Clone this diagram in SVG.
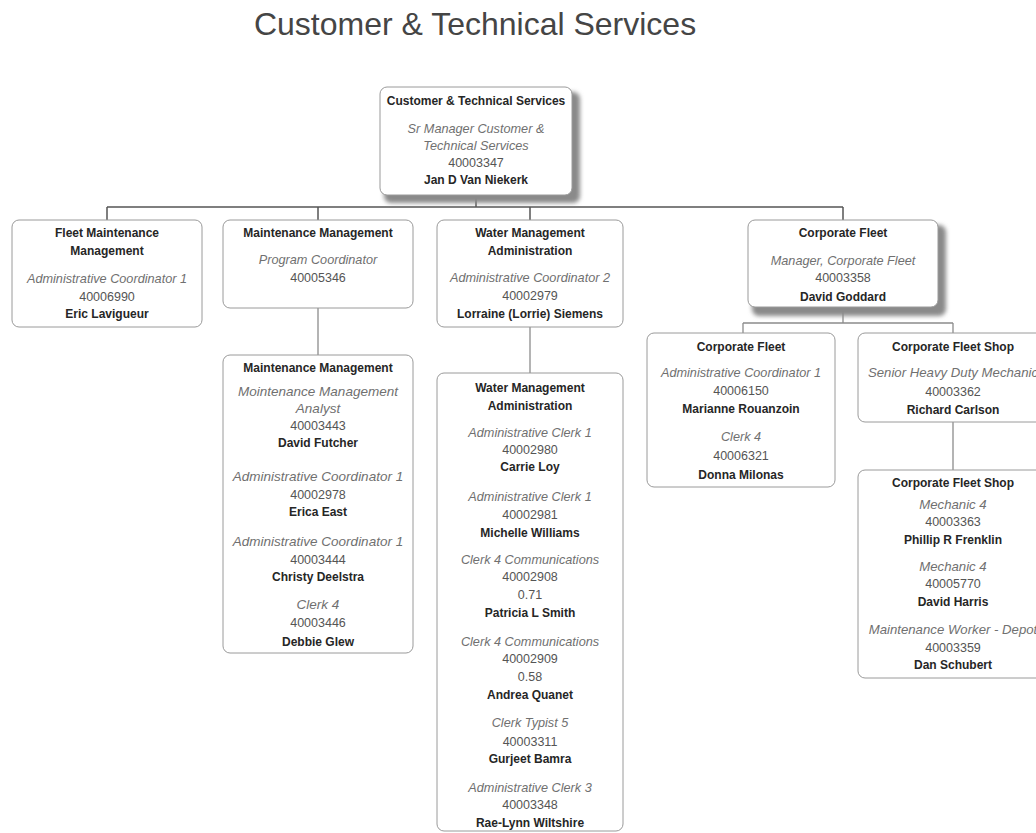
<svg xmlns="http://www.w3.org/2000/svg" width="1036" height="833" viewBox="0 0 1036 833">
  <defs>
    <filter id="shadow" x="-10%" y="-10%" width="130%" height="140%">
      <feGaussianBlur stdDeviation="2.2"/>
    </filter>
  </defs>
  <style>
    text { font-family: "Liberation Sans", Arial, sans-serif; text-anchor: middle; }
    .title { font-size: 32px; fill: #454545; }
    .box { fill: #ffffff; stroke: #9a9a9a; stroke-width: 1; }
    .shd { fill: #8a8a8a; filter: url(#shadow); }
    .h { font-size: 12px; font-weight: bold; fill: #262626; }
    .t { font-size: 12.7px; font-style: italic; fill: #707070; }
    .t2 { font-size: 13.5px; font-style: italic; fill: #707070; }
    .t3 { font-size: 13.2px; font-style: italic; fill: #707070; }
    .n { font-size: 12.5px; fill: #555555; }
    .p { font-size: 12px; font-weight: bold; fill: #262626; }
    .main { stroke: #555555; stroke-width: 1.5; fill: none; }
    .link { stroke: #8c8c8c; stroke-width: 1.3; fill: none; }
  </style>

  <rect width="1036" height="833" fill="#ffffff"/>

  <text class="title" x="475" y="35">Customer &amp; Technical Services</text>

  <!-- connectors -->
  <g id="connectors">
    <path class="main" d="M476 195 V207 M107 207 H843 M107 207 V220 M318 207 V220 M530 207 V220 M843 207 V220"/>
    <path class="link" d="M318 308 V355"/>
    <path class="link" d="M530 327 V373"/>
    <path class="link" d="M843 307 V323 M743 323 H953 M743 323 V333 M953 323 V333"/>
    <path class="link" d="M953 422 V470"/>
  </g>

  <!-- top: department head -->
  <g id="node-cts">
    <rect class="shd" x="384" y="92" width="196" height="111" rx="7"/>
    <rect class="box" x="380" y="87" width="192" height="108" rx="7"/>
    <text class="h" x="476" y="105">Customer &amp; Technical Services</text>
    <text class="t" x="476" y="133.3">Sr Manager Customer &amp;</text>
    <text class="t" x="476" y="150">Technical Services</text>
    <text class="n" x="476" y="167">40003347</text>
    <text class="p" x="476" y="184">Jan D Van Niekerk</text>
  </g>

  <g id="node-fleet-maintenance">
    <rect class="box" x="12" y="220" width="190" height="107" rx="7"/>
    <text class="h" x="107" y="237">Fleet Maintenance</text>
    <text class="h" x="107" y="255">Management</text>
    <text class="t" x="107" y="283">Administrative Coordinator 1</text>
    <text class="n" x="107" y="300.7">40006990</text>
    <text class="p" x="107" y="318.3">Eric Lavigueur</text>
  </g>

  <g id="node-maintenance-mgmt">
    <rect class="box" x="223" y="220" width="190" height="88" rx="7"/>
    <text class="h" x="318" y="236.7">Maintenance Management</text>
    <text class="t" x="318" y="264">Program Coordinator</text>
    <text class="n" x="318" y="282.3">40005346</text>
  </g>

  <g id="node-water-mgmt">
    <rect class="box" x="437" y="220" width="186" height="107" rx="7"/>
    <text class="h" x="530" y="236.7">Water Management</text>
    <text class="h" x="530" y="254.7">Administration</text>
    <text class="t" x="530" y="282.3">Administrative Coordinator 2</text>
    <text class="n" x="530" y="300">40002979</text>
    <text class="p" x="530" y="318.3">Lorraine (Lorrie) Siemens</text>
  </g>

  <g id="node-corporate-fleet">
    <rect class="shd" x="752" y="225" width="194" height="91" rx="7"/>
    <rect class="box" x="748" y="220" width="190" height="87" rx="7"/>
    <text class="h" x="843" y="236.7">Corporate Fleet</text>
    <text class="t" x="843" y="264.7">Manager, Corporate Fleet</text>
    <text class="n" x="843" y="282.3">40003358</text>
    <text class="p" x="843" y="300.7">David Goddard</text>
  </g>

  <!-- maintenance management staff -->
  <g id="node-maintenance-staff">
    <rect class="box" x="223" y="355" width="190" height="298" rx="7"/>
    <text class="h" x="318" y="372.3">Maintenance Management</text>
    <text class="t2" x="318" y="396">Mointenance Management</text>
    <text class="t2" x="318" y="413">Analyst</text>
    <text class="n" x="318" y="430">40003443</text>
    <text class="p" x="318" y="447">David Futcher</text>
    <text class="t2" x="318" y="480.7">Administrative Coordinator 1</text>
    <text class="n" x="318" y="499">40002978</text>
    <text class="p" x="318" y="515.7">Erica East</text>
    <text class="t2" x="318" y="545.7">Administrative Coordinator 1</text>
    <text class="n" x="318" y="564">40003444</text>
    <text class="p" x="318" y="581.3">Christy Deelstra</text>
    <text class="t2" x="318" y="609">Clerk 4</text>
    <text class="n" x="318" y="627.3">40003446</text>
    <text class="p" x="318" y="645.7">Debbie Glew</text>
  </g>

  <!-- water management staff -->
  <g id="node-water-staff">
    <rect class="box" x="437" y="373" width="186" height="458" rx="7"/>
    <text class="h" x="530" y="392.3">Water Management</text>
    <text class="h" x="530" y="410">Administration</text>
    <text class="t" x="530" y="436.7">Administrative Clerk 1</text>
    <text class="n" x="530" y="454">40002980</text>
    <text class="p" x="530" y="471.3">Carrie Loy</text>
    <text class="t" x="530" y="500.7">Administrative Clerk 1</text>
    <text class="n" x="530" y="519">40002981</text>
    <text class="p" x="530" y="536.7">Michelle Williams</text>
    <text class="t" x="530" y="564">Clerk 4 Communications</text>
    <text class="n" x="530" y="581.3">40002908</text>
    <text class="n" x="530" y="599">0.71</text>
    <text class="p" x="530" y="617.3">Patricia L Smith</text>
    <text class="t" x="530" y="645.7">Clerk 4 Communications</text>
    <text class="n" x="530" y="663">40002909</text>
    <text class="n" x="530" y="680.7">0.58</text>
    <text class="p" x="530" y="699">Andrea Quanet</text>
    <text class="t" x="530" y="727.3">Clerk Typist 5</text>
    <text class="n" x="530" y="745.7">40003311</text>
    <text class="p" x="530" y="763.3">Gurjeet Bamra</text>
    <text class="t" x="530" y="792.3">Administrative Clerk 3</text>
    <text class="n" x="530" y="809">40003348</text>
    <text class="p" x="530" y="827.3">Rae-Lynn Wiltshire</text>
  </g>

  <!-- corporate fleet staff -->
  <g id="node-corporate-fleet-admin">
    <rect class="box" x="647" y="333" width="188" height="154" rx="7"/>
    <text class="h" x="741" y="351.3">Corporate Fleet</text>
    <text class="t" x="741" y="377.3">Administrative Coordinator 1</text>
    <text class="n" x="741" y="394.7">40006150</text>
    <text class="p" x="741" y="413.3">Marianne Rouanzoin</text>
    <text class="t" x="741" y="441.3">Clerk 4</text>
    <text class="n" x="741" y="460">40006321</text>
    <text class="p" x="741" y="479">Donna Milonas</text>
  </g>

  <g id="node-fleet-shop-lead">
    <rect class="box" x="858" y="333" width="190" height="89" rx="7"/>
    <text class="h" x="953" y="351.3">Corporate Fleet Shop</text>
    <text class="t3" x="953" y="377.3">Senior Heavy Duty Mechanic</text>
    <text class="n" x="953" y="395.7">40003362</text>
    <text class="p" x="953" y="414">Richard Carlson</text>
  </g>

  <g id="node-fleet-shop-staff">
    <rect class="box" x="858" y="470" width="190" height="208" rx="7"/>
    <text class="h" x="953" y="487.3">Corporate Fleet Shop</text>
    <text class="t3" x="953" y="508.5">Mechanic 4</text>
    <text class="n" x="953" y="526">40003363</text>
    <text class="p" x="953" y="543.5">Phillip R Frenklin</text>
    <text class="t3" x="953" y="570.7">Mechanic 4</text>
    <text class="n" x="953" y="588">40005770</text>
    <text class="p" x="953" y="605.7">David Harris</text>
    <text class="t3" x="953" y="634">Maintenance Worker - Depot</text>
    <text class="n" x="953" y="651.7">40003359</text>
    <text class="p" x="953" y="669">Dan Schubert</text>
  </g>
</svg>
